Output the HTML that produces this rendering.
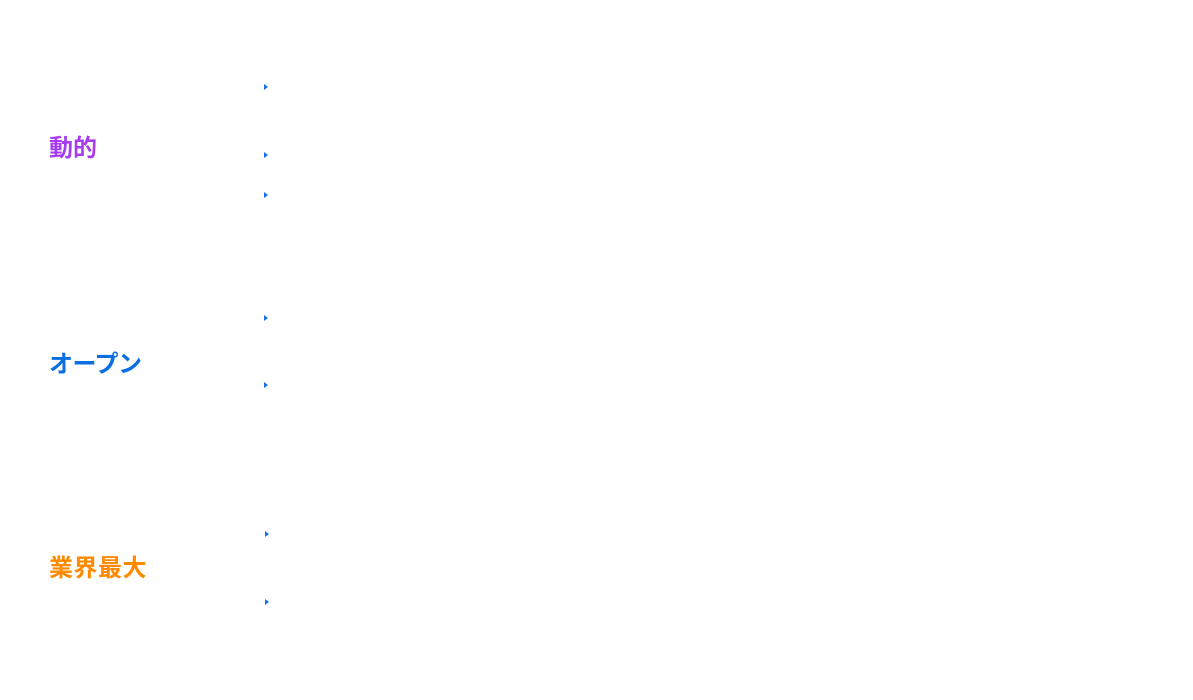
<!DOCTYPE html>
<html><head><meta charset="utf-8"><style>
body{margin:0;width:1193px;height:700px;background:#fff;position:relative;overflow:hidden;font-family:"Liberation Sans","Noto Sans CJK JP",sans-serif}
.t{position:absolute;left:49px;font-size:24px;line-height:24px;font-weight:bold;white-space:nowrap}
.a{position:absolute;width:0;height:0;border-top:3.5px solid transparent;border-bottom:3.5px solid transparent;border-left:4px solid #1a6fe8}
</style></head><body>
<div class="t" style="top:137px;color:#a53cf0">動的</div>
<div class="t" style="top:353px;color:#0a6fe0;letter-spacing:-0.5px">オープン</div>
<div class="t" style="top:557px;color:#ff8a00;letter-spacing:0.5px">業界最大</div>
<div class="a" style="left:264px;top:84px"></div>
<div class="a" style="left:264px;top:152px"></div>
<div class="a" style="left:264px;top:192px"></div>
<div class="a" style="left:264px;top:315px"></div>
<div class="a" style="left:264px;top:382px"></div>
<div class="a" style="left:265px;top:531px"></div>
<div class="a" style="left:265px;top:599px"></div>
</body></html>
